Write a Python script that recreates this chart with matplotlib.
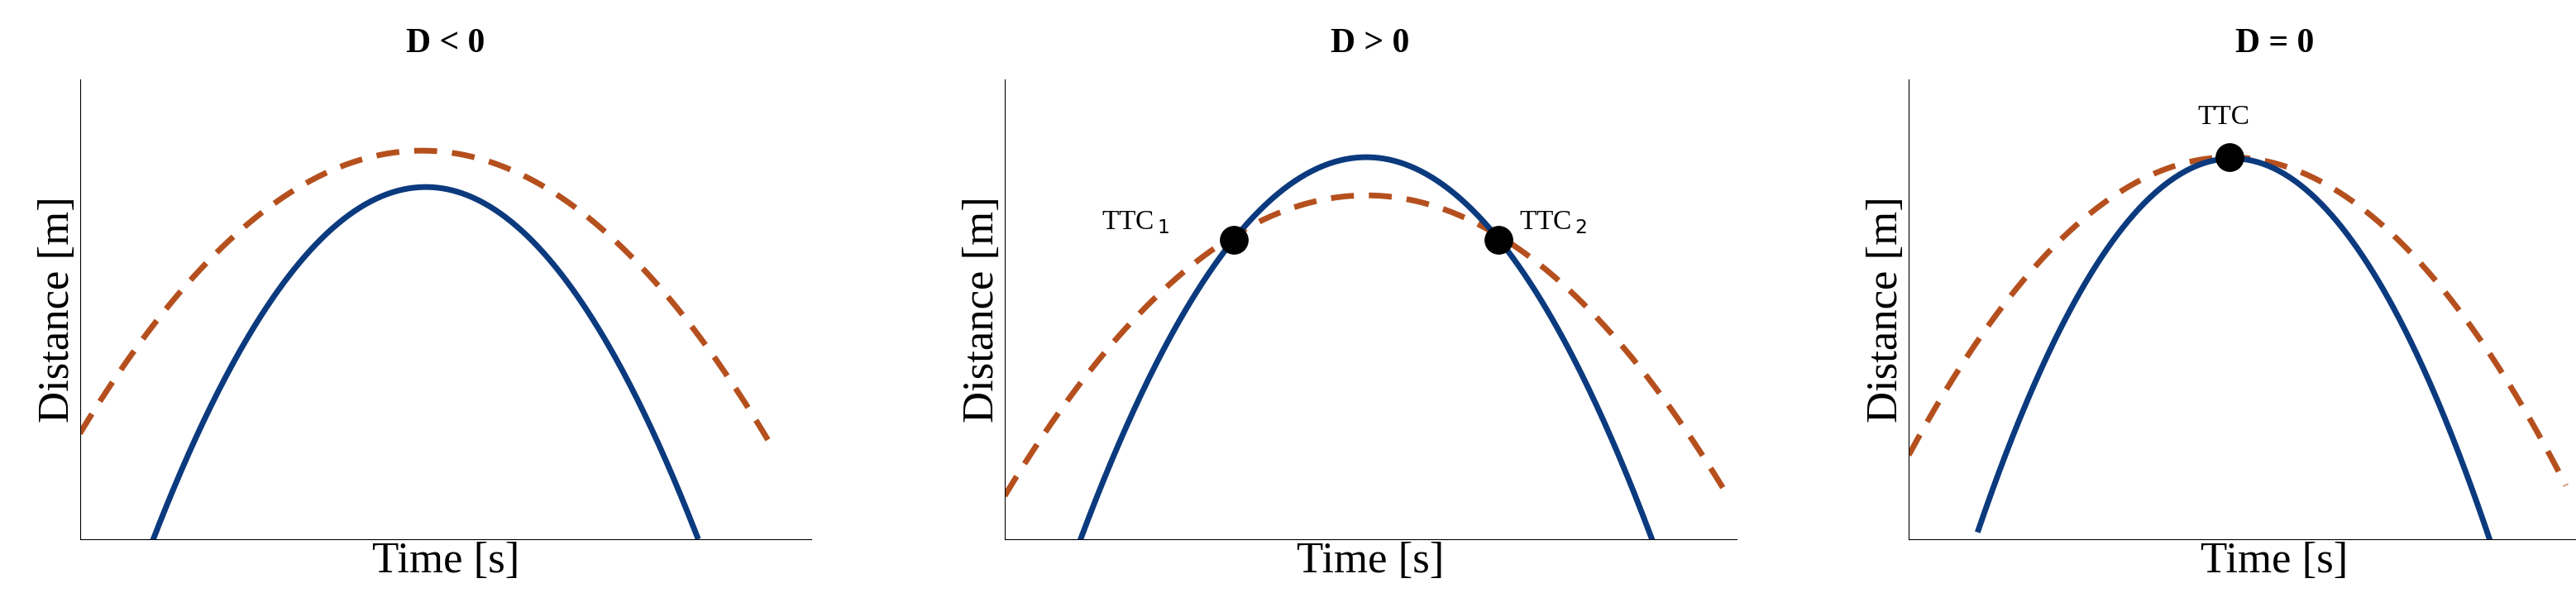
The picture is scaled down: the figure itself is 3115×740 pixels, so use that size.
import numpy as np
import matplotlib
matplotlib.use("Agg")
import matplotlib.pyplot as plt

plt.rcParams['font.family'] = ['Liberation Serif', 'DejaVu Serif']

titles = ["D < 0", "D > 0", "D = 0"]
blue_t = [[1.04, 2, 3, 4, 5, 6, 7, 8, 8.86],
          [1.09, 2, 3, 4, 5, 6, 7, 8, 9.29],
          [1.0, 2, 3, 4, 5, 6, 7, 8, 8.46]]
blue_d = [[0, 3.21, 5.70, 7.18, 7.66, 7.14, 5.62, 3.09, 0],
          [0, 3.28, 5.94, 7.61, 8.29, 7.99, 6.69, 4.41, 0],
          [0, 4.21, 6.76, 8.09, 8.21, 7.12, 4.81, 0.86, 0]]
orange_t = [[0, 2, 4, 6, 8, 9.93],
            [0, 2, 4, 6, 8, 10.38],
            [0, 2, 4, 6, 8, 9.43]]
orange_d = [[2.30, 6.29, 8.24, 8.15, 6.02, 2.02],
            [0.94, 5.01, 7.14, 7.32, 5.56, 0.94],
            [1.83, 6.24, 8.20, 7.71, 4.77, 1.17]]
ttc_t = [[], [3.29, 7.09], [4.60]]
ttc_d = [[], [6.51, 6.51], [8.31]]
ttc_labels = [[], ["TTC$_{\\,1}$", "TTC$_{\\,2}$"], ["TTC"]]
ttc_offsets = [[], [(-1.9, 0.1), (0.3, 0.1)], [(-0.45, 0.6)]]

fig = plt.figure(figsize=(31.15, 7.4), dpi=100)
lefts = [0.031, 0.390, 0.741]
for i in range(3):
    ax = fig.add_axes([lefts[i], 0.119, 0.284, 0.751])
    bt, bd = np.array(blue_t[i]), np.array(blue_d[i])
    ot, od = np.array(orange_t[i]), np.array(orange_d[i])
    pb = np.polyfit(bt, bd, 2)
    po = np.polyfit(ot, od, 2)
    xb = np.linspace(bt[0], bt[-1], 300)
    xo = np.linspace(ot[0], ot[-1], 300)
    ax.plot(xo, np.polyval(po, xo), color='#b5501e', lw=5, ls=(0, (4, 2.6)), zorder=2)
    ax.plot(xb, np.polyval(pb, xb), color='#0b3a7e', lw=5, zorder=3)
    for t, d, lab, off in zip(ttc_t[i], ttc_d[i], ttc_labels[i], ttc_offsets[i]):
        ax.plot([t], [d], 'o', color='black', ms=24, zorder=4)
        ax.text(t + off[0], d + off[1], lab, fontsize=24, ha='left', va='bottom')
    ax.set_xlim(0, 10.5)
    ax.set_ylim(0, 10)
    ax.set_xticks([]); ax.set_yticks([])
    for s in ['top', 'right']:
        ax.spines[s].set_visible(False)
    ax.set_xlabel("Time [s]", fontsize=38, labelpad=2)
    ax.set_ylabel("Distance [m]", fontsize=38, labelpad=2)
    ax.set_title(titles[i], fontsize=30, fontweight='bold', pad=24)

fig.savefig("out.png", dpi=100)
